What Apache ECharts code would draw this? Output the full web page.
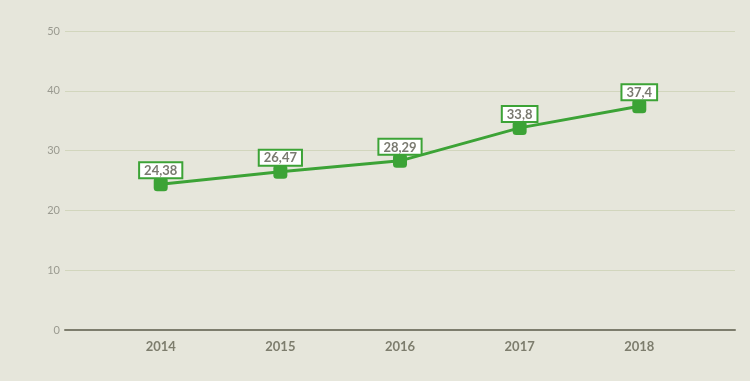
<!DOCTYPE html>
<html><head><meta charset="utf-8">
<script src="https://cdn.jsdelivr.net/npm/echarts@6/dist/echarts.min.js"></script>
<style>html,body{margin:0;padding:0;background:#e6e6db}#c{width:750px;height:381px}</style>
</head><body><div id="c"></div>
<script>
const years = [2014, 2015, 2016, 2017, 2018];
const values = [24.38, 26.47, 28.29, 33.8, 37.4];
const labels = ['24,38', '26,47', '28,29', '33,8', '37,4'];
const yTicks = [0, 10, 20, 30, 40, 50];

const chart = echarts.init(document.getElementById('c'));
chart.setOption({
  backgroundColor: '#e6e6db',
  animation: false,
  grid: { left: 65, right: 15, top: 31, bottom: 51 },
  xAxis: {
    type: 'value', min: 2013.2, max: 2018.8,
    splitLine: { show: false },
    axisLine: { show: true, lineStyle: { color: '#7d7d6d', width: 2 } },
    axisTick: { show: false },
    axisLabel: { customValues: years, color: '#7d7d6d', fontSize: 13, fontWeight: 'bold', fontFamily: 'Lato', margin: 10,
      formatter: v => String(v) }
  },
  yAxis: {
    type: 'value', min: 0, max: 50, interval: 10,
    axisLine: { show: false }, axisTick: { show: false },
    splitLine: { lineStyle: { color: '#d2d6bd', width: 1 } },
    axisLabel: { customValues: yTicks, color: '#9a9a90', fontSize: 11, fontFamily: 'Lato', margin: 5 }
  },
  series: [{
    type: 'line',
    data: years.map((y, i) => [y, values[i]]),
    symbol: 'roundRect', symbolSize: 14,
    itemStyle: { color: '#3ca336' },
    lineStyle: { color: '#3ca336', width: 3 },
    label: {
      show: true, position: 'top', distance: 0,
      formatter: p => labels[p.dataIndex],
      color: '#7a7a70', fontSize: 13, fontWeight: 'bold', fontFamily: 'Lato',
      backgroundColor: '#ffffff', borderColor: '#3ca336', borderWidth: 2,
      padding: [1, 4, 0, 4]
    }
  }]
});
</script></body></html>
